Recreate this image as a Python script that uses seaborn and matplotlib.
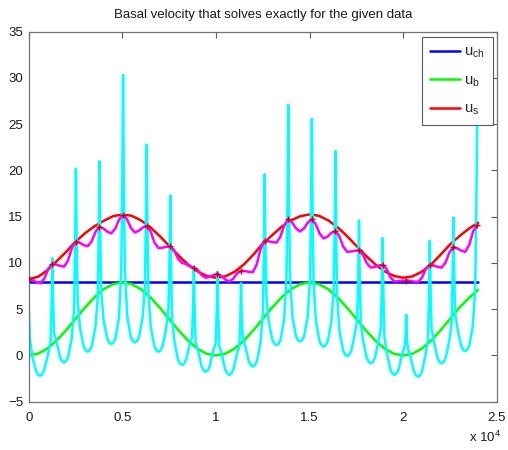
import matplotlib
matplotlib.use('Agg')
import matplotlib.pyplot as plt
import seaborn as sns

# ---- data ----
# channel velocity u_ch (constant)
ch_x = [0, 24000]
ch_y = [7.9, 7.9]

# sample positions for the smooth curves u_b and u_s
smooth_x = list(range(0, 24001, 500))
ub_y = [0.0, 0.19, 0.75, 1.63, 2.73, 3.95, 5.17, 6.27, 7.15, 7.71, 7.9,
        7.71, 7.15, 6.27, 5.17, 3.95, 2.73, 1.63, 0.75, 0.19, 0.0,
        0.19, 0.75, 1.63, 2.73, 3.95, 5.17, 6.27, 7.15, 7.71, 7.9,
        7.71, 7.15, 6.27, 5.17, 3.95, 2.73, 1.63, 0.75, 0.19, 0.0,
        0.19, 0.75, 1.63, 2.73, 3.95, 5.17, 6.2, 7.1]
us_y = [8.25, 8.5, 9.2, 10.2, 11.2, 12.3, 13.2, 13.95, 14.55, 15.05, 15.25,
        15.1, 14.6, 13.85, 12.9, 11.85, 10.8, 9.85, 9.1, 8.6, 8.4,
        8.55, 9.05, 9.85, 10.9, 12.1, 13.0, 13.9, 14.6, 15.05, 15.25,
        15.1, 14.6, 13.85, 12.9, 11.85, 10.8, 9.85, 9.1, 8.6, 8.4,
        8.55, 9.05, 9.85, 10.9, 12.0, 12.9, 13.7, 14.35]

# spiky basal velocity (cyan), one row per spike cycle
spike_x = [0, 65, 190, 380, 490, 600, 710, 820, 1040, 1165, 1222,
           1260, 1298, 1355, 1480, 1670, 1780, 1890, 2000, 2110, 2300, 2425, 2482,
           2520, 2558, 2615, 2740, 2930, 3040, 3150, 3260, 3370, 3560, 3685, 3742,
           3780, 3818, 3875, 4000, 4190, 4300, 4410, 4520, 4630, 4820, 4945, 5002,
           5040, 5078, 5135, 5260, 5450, 5560, 5670, 5780, 5890, 6080, 6205, 6262,
           6300, 6338, 6395, 6520, 6710, 6820, 6930, 7040, 7150, 7340, 7465, 7522,
           7560, 7598, 7655, 7780, 7970, 8080, 8190, 8300, 8410, 8600, 8725, 8782,
           8820, 8858, 8915, 9040, 9230, 9340, 9450, 9560, 9670, 9860, 9985, 10042,
           10080, 10118, 10175, 10300, 10490, 10600, 10710, 10820, 10930, 11120, 11245, 11302,
           11340, 11378, 11435, 11560, 11750, 11860, 11970, 12080, 12190, 12380, 12505, 12562,
           12600, 12638, 12695, 12820, 13010, 13120, 13230, 13340, 13450, 13640, 13765, 13822,
           13860, 13898, 13955, 14080, 14270, 14380, 14490, 14600, 14710, 14900, 15025, 15082,
           15120, 15158, 15215, 15340, 15530, 15640, 15750, 15860, 15970, 16160, 16285, 16342,
           16380, 16418, 16475, 16600, 16790, 16900, 17010, 17120, 17230, 17420, 17545, 17602,
           17640, 17678, 17735, 17860, 18050, 18160, 18270, 18380, 18490, 18680, 18805, 18862,
           18900, 18938, 18995, 19120, 19310, 19420, 19530, 19640, 19750, 19940, 20065, 20122,
           20160, 20198, 20255, 20380, 20570, 20680, 20790, 20900, 21010, 21200, 21325, 21382,
           21420, 21458, 21515, 21640, 21830, 21940, 22050, 22160, 22270, 22460, 22585, 22642,
           22680, 22718, 22775, 22900, 23090, 23200, 23310, 23420, 23530, 23720, 23845, 23902,
           23950]
spike_y = [5.5, 1.8, -0.1, -1.6, -2.05, -2.2, -2.05, -1.6, 0.18, 1.36, 5.67,
           10.5, 6.23, 2.40, 1.59, -0.15, -0.6, -0.75, -0.6, -0.15, 1.88, 5.12, 12.24,
           20.2, 12.68, 5.94, 2.99, 1.0, 0.55, 0.4, 0.55, 1.0, 3.02, 6.17, 13.17,
           21.0, 13.49, 6.77, 3.82, 1.83, 1.38, 1.23, 1.38, 1.83, 4.10, 9.37, 19.25,
           30.3, 19.32, 9.49, 4.27, 2.0, 1.55, 1.4, 1.55, 2.0, 4.04, 7.39, 14.67,
           22.8, 14.29, 6.67, 3.07, 1.0, 0.55, 0.4, 0.55, 1.0, 2.91, 5.13, 10.88,
           17.3, 10.33, 4.10, 1.51, -0.44, -0.89, -1.04, -0.89, -0.44, 1.28, 1.96, 5.56,
           9.6, 5.28, 1.42, 0.58, -1.16, -1.61, -1.76, -1.61, -1.16, 0.56, 1.27, 4.94,
           9.05, 4.81, 1.02, 0.23, -1.5, -1.95, -2.1, -1.95, -1.5, 0.2, 0.9, 4.04,
           7.8, 4.38, 1.8, 1.07, -0.6, -1.05, -1.2, -1.05, -0.6, 1.42, 4.62, 11.7,
           19.6, 12.57, 6.28, 3.66, 1.7, 1.25, 1.1, 1.25, 1.7, 3.88, 8.38, 17.22,
           27.1, 17.37, 8.67, 4.27, 2.1, 1.65, 1.5, 1.65, 2.1, 4.22, 8.25, 16.44,
           25.6, 16.23, 7.85, 3.69, 1.55, 1.1, 0.95, 1.1, 1.55, 3.58, 6.87, 14.06,
           22.1, 13.68, 6.14, 2.6, 0.53, 0.08, -0.07, 0.08, 0.53, 2.37, 4.04, 9.03,
           14.6, 8.73, 3.47, 1.6, -0.26, -0.71, -0.86, -0.71, -0.26, 1.55, 2.94, 7.55,
           12.7, 7.08, 2.04, 0.34, -1.5, -1.95, -2.1, -1.95, -1.5, 0.1, 0.9, 1.93,
           4.4, 1.85, 0.7, -0.1, -1.7, -2.15, -2.3, -2.15, -1.7, 0.14, 1.82, 6.81,
           12.4, 7.36, 2.85, 1.54, -0.26, -0.71, -0.86, -0.71, -0.26, 1.61, 3.55, 8.91,
           14.9, 9.42, 4.51, 2.9, 1.07, 0.62, 0.47, 0.62, 1.07, 3.21, 7.34, 15.68,
           25.0]

# fitted surface velocity (magenta); every 6th point is a data mark (+)
fit_x = [0, 200, 420, 630, 840, 1060,
         1260, 1460, 1680, 1890, 2100, 2320,
         2520, 2720, 2940, 3150, 3360, 3580,
         3780, 3980, 4200, 4410, 4620, 4840,
         5040, 5240, 5460, 5670, 5880, 6100,
         6300, 6500, 6720, 6930, 7140, 7360,
         7560, 7760, 7980, 8190, 8400, 8620,
         8820, 9020, 9240, 9450, 9660, 9880,
         10080, 10280, 10500, 10710, 10920, 11140,
         11340, 11540, 11760, 11970, 12180, 12400,
         12600, 12800, 13020, 13230, 13440, 13660,
         13860, 14060, 14280, 14490, 14700, 14920,
         15120, 15320, 15540, 15750, 15960, 16180,
         16380, 16580, 16800, 17010, 17220, 17440,
         17640, 17840, 18060, 18270, 18480, 18700,
         18900, 19100, 19320, 19530, 19740, 19960,
         20160, 20360, 20580, 20790, 21000, 21220,
         21420, 21620, 21840, 22050, 22260, 22480,
         22680, 22880, 23100, 23310, 23520, 23740,
         23950]
fit_y = [8.25, 8.15, 7.91, 7.8, 8.33, 9.42,
         9.9, 9.83, 9.68, 9.6, 10.27, 11.68,
         12.3, 12.19, 11.93, 11.8, 12.33, 13.42,
         13.9, 13.74, 13.38, 13.2, 13.7, 14.74,
         15.2, 14.76, 13.78, 13.3, 13.48, 13.84,
         14.0, 13.45, 12.2, 11.6, 11.65, 11.75,
         11.8, 11.39, 10.45, 10.0, 9.88, 9.62,
         9.5, 9.25, 8.68, 8.4, 8.5, 8.71,
         8.8, 8.62, 8.2, 8.0, 8.29, 8.89,
         9.15, 9.12, 9.04, 9.0, 9.85, 11.62,
         12.4, 12.35, 12.25, 12.2, 12.83, 14.13,
         14.7, 14.4, 13.73, 13.4, 13.73, 14.4,
         14.7, 14.23, 13.16, 12.65, 12.85, 13.27,
         13.45, 12.93, 11.76, 11.2, 11.24, 11.32,
         11.35, 10.92, 9.96, 9.5, 9.58, 9.73,
         9.8, 9.39, 8.45, 8.0, 8.03, 8.08,
         8.1, 8.07, 7.99, 7.95, 8.41, 9.37,
         9.8, 9.73, 9.58, 9.5, 10.05, 11.19,
         11.7, 11.59, 11.33, 11.2, 11.93, 13.43,
         14.1]

x_ticks = [0, 5000, 10000, 15000, 20000, 25000]
x_tick_labels = ['0', '0.5', '1', '1.5', '2', '2.5']
y_ticks = [-5, 0, 5, 10, 15, 20, 25, 30, 35]
legend_labels = ['u$_{ch}$', 'u$_{b}$', 'u$_{s}$']

# ---- style ----
sns.set_theme(style='white')
plt.rcParams['font.family'] = ['Liberation Sans', 'DejaVu Sans']
plt.rcParams['mathtext.default'] = 'regular'

fig = plt.figure(figsize=(5.08, 4.5), dpi=100)
ax = fig.add_axes([0.0565, 0.1073, 0.9215, 0.8223])

lw = 1.8
sns.lineplot(x=ch_x, y=ch_y, color=(0, 0, 1), lw=lw, ax=ax)
sns.lineplot(x=smooth_x, y=ub_y, color=(0, 1, 0), lw=lw, ax=ax)
sns.lineplot(x=smooth_x, y=us_y, color=(1, 0, 0), lw=lw, ax=ax)
sns.lineplot(x=spike_x, y=spike_y, color=(0, 1, 1), lw=lw, ax=ax)
sns.lineplot(x=fit_x, y=fit_y, color=(1, 0, 1), lw=lw, ax=ax)
sns.scatterplot(x=fit_x[::6], y=fit_y[::6], marker='+', color=(0.8, 0, 0),
                s=16, linewidth=1, ax=ax, zorder=5)

ax.set_xlim(0, 25000)
ax.set_ylim(-5, 35)
ax.set_xticks(x_ticks)
ax.set_xticklabels(x_tick_labels)
ax.set_yticks(y_ticks)
ax.tick_params(direction='in', top=True, right=True, length=4, width=0.8,
               color='0.35', labelsize=9.5, labelcolor='0.1')
ax.tick_params(axis='x', pad=7.5)
ax.tick_params(axis='y', pad=4)
for s in ax.spines.values():
    s.set_color('0.45')
    s.set_linewidth(0.9)

ax.set_title('Basal velocity that solves exactly for the given data',
             fontsize=9.5, pad=10, color='0.1')
fig.text(0.986, 0.017, 'x 10$^{4}$', ha='right', va='baseline',
         fontsize=9.5, color='0.1')

lines = ax.get_lines()[:3]
leg = ax.legend(lines, legend_labels, loc='upper right', fontsize=10.5,
                frameon=True, fancybox=False, framealpha=1,
                handlelength=2.1, labelspacing=0.9, borderpad=0.55,
                handletextpad=0.25, borderaxespad=0,
                bbox_to_anchor=(0.9908, 0.9865))
leg.get_frame().set_edgecolor('0.35')
leg.get_frame().set_linewidth(0.8)

fig.savefig('out.png', dpi=100)
